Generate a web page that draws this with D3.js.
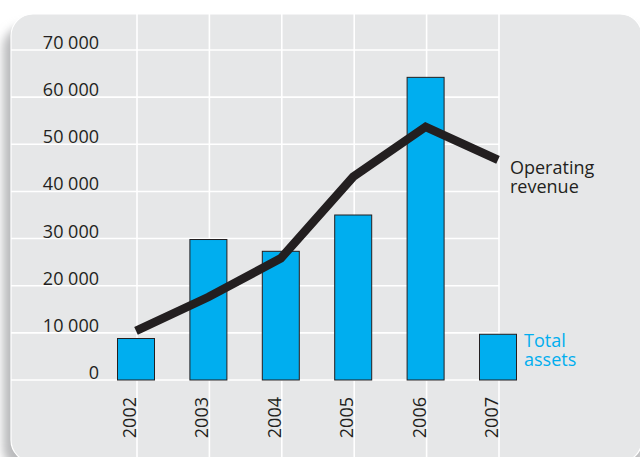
<!DOCTYPE html>
<html>
<head>
<meta charset="utf-8">
<script src="https://cdn.jsdelivr.net/npm/d3@7"></script>
<style>
  html, body { margin: 0; padding: 0; background: #ffffff; }
  svg { display: block; }
  text { font-family: "Open Sans", "Noto Sans", sans-serif; }
</style>
</head>
<body>
<svg id="chart" width="640" height="457"></svg>
<script>
// Years on the horizontal axis
const years = ["2002", "2003", "2004", "2005", "2006", "2007"];
// Total assets (bars)
const totalAssets = [8800, 29800, 27300, 35000, 64200, 9700];
// Operating revenue (line)
const operatingRevenue = [10400, 17600, 25800, 43100, 53700, 46700];
// Value axis ticks
const yTicks = [0, 10000, 20000, 30000, 40000, 50000, 60000, 70000];

const W = 640, H = 457;
const svg = d3.select("#chart");
const ink = "#231f20";
const blue = "#00aeef";

const x = d3.scalePoint().domain(years).range([136, 498]);
const y = d3.scaleLinear().domain([0, 70000]).range([380, 50]);

// Soft shadow on the left edge of the panel
const defs = svg.append("defs");
const blur = defs.append("filter").attr("id", "shadow")
  .attr("x", "-20%").attr("y", "-20%").attr("width", "140%").attr("height", "140%");
blur.append("feGaussianBlur").attr("stdDeviation", 5);

function panelPath(x0, y0, x1, y1, r) {
  return `M${x0 + r},${y0} H${x1 - r} A${r},${r} 0 0 1 ${x1},${y0 + r}
          V${y1 - r} A${r},${r} 0 0 1 ${x1 - r},${y1} H${x0 + r}
          A${r},${r} 0 0 1 ${x0},${y1 - r} V${y0 + r} A${r},${r} 0 0 1 ${x0 + r},${y0} Z`;
}

svg.append("path")
  .attr("d", panelPath(3, 26, 646, 470, 22))
  .attr("fill", "#b9babc")
  .attr("filter", "url(#shadow)");

svg.append("path")
  .attr("d", panelPath(11, 14, 642, 462, 22))
  .attr("fill", "#e6e7e8")
  .attr("stroke", "#ffffff")
  .attr("stroke-width", 1.2);

// Grid: vertical lines at each year, horizontal lines at each tick
const clip = defs.append("clipPath").attr("id", "panelClip");
clip.append("path").attr("d", panelPath(11, 14, 642, 462, 22));

const grid = svg.append("g").attr("clip-path", "url(#panelClip)");
grid.selectAll("line.v").data(years).join("line")
  .attr("class", "v")
  .attr("x1", d => x(d) + 1).attr("x2", d => x(d) + 1)
  .attr("y1", 14).attr("y2", H)
  .attr("stroke", "#ffffff").attr("stroke-width", 1.6);
grid.selectAll("line.h").data(yTicks).join("line")
  .attr("class", "h")
  .attr("x1", 11).attr("x2", x("2007") + 1)
  .attr("y1", d => y(d)).attr("y2", d => y(d))
  .attr("stroke", "#ffffff").attr("stroke-width", 1.6);

// Y axis labels
const fmt = v => d3.format(",")(v).replace(/,/g, " ");
const yAxis = d3.axisLeft(y).tickValues(yTicks).tickFormat(fmt).tickSize(0).tickPadding(0);
const yg = svg.append("g").attr("transform", "translate(99,0)").call(yAxis);
yg.select(".domain").remove();
yg.selectAll("text")
  .attr("x", 0).attr("dy", "-1.5")
  .attr("text-anchor", "end")
  .attr("fill", ink)
  .style("font-size", "18px")
  .style("font-family", "'Open Sans', sans-serif");

// X axis labels, rotated
const xAxis = d3.axisBottom(x).tickSize(0).tickPadding(0);
const xg = svg.append("g").attr("transform", "translate(0,0)").call(xAxis);
xg.select(".domain").remove();
xg.selectAll(".tick").attr("transform", d => `translate(${x(d)},397)`);
xg.selectAll("text")
  .attr("x", 0).attr("y", 0).attr("dy", 0)
  .attr("transform", "rotate(-90)")
  .attr("text-anchor", "end")
  .attr("fill", ink)
  .style("font-size", "18px")
  .style("font-family", "'Open Sans', sans-serif");

// Bars
const barW = 37;
svg.append("g").selectAll("rect").data(years).join("rect")
  .attr("x", d => x(d) - barW / 2)
  .attr("y", (d, i) => y(totalAssets[i]))
  .attr("width", barW)
  .attr("height", (d, i) => y(0) - y(totalAssets[i]))
  .attr("fill", blue)
  .attr("stroke", ink)
  .attr("stroke-width", 1);

// Operating revenue line
const line = d3.line().x(d => x(d.year)).y(d => y(d.v));
svg.append("path")
  .datum(years.map((yr, i) => ({ year: yr, v: operatingRevenue[i] })))
  .attr("d", line)
  .attr("fill", "none")
  .attr("stroke", ink)
  .attr("stroke-width", 8.5)
  .attr("stroke-linejoin", "miter")
  .attr("stroke-linecap", "butt");

// Series labels
const opLabel = svg.append("text").attr("fill", ink).style("font-size", "18px");
opLabel.append("tspan").attr("x", 510).attr("y", 174).text("Operating");
opLabel.append("tspan").attr("x", 510).attr("y", 192.5).text("revenue");

const taLabel = svg.append("text").attr("fill", blue).style("font-size", "18px");
taLabel.append("tspan").attr("x", 524).attr("y", 347).text("Total");
taLabel.append("tspan").attr("x", 524).attr("y", 365.5).text("assets");
</script>
</body>
</html>
